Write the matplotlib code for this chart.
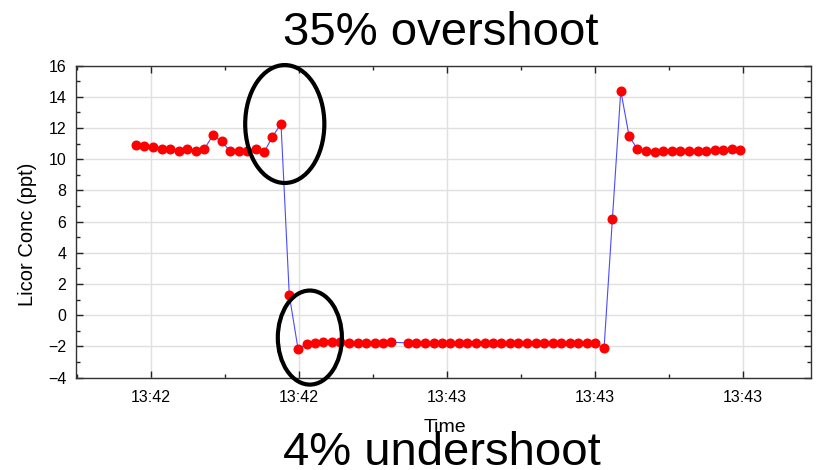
import matplotlib
matplotlib.use('Agg')
import matplotlib.pyplot as plt
from matplotlib.patches import Ellipse
from matplotlib.ticker import MultipleLocator, FuncFormatter

plt.rcParams['font.family'] = ['Liberation Sans', 'DejaVu Sans']

# seconds after 13:42:00
t_sec = [17.97, 19.09, 20.27, 21.45, 22.61, 23.75, 24.87, 26.05, 27.17, 28.35,
         29.52, 30.65, 31.82, 32.95, 34.12, 35.30, 36.38, 37.56,
         38.68, 39.86, 41.02, 42.10, 43.24, 44.41, 45.58, 46.76, 47.93, 49.10,
         50.23, 51.36, 52.49,
         54.75, 55.87, 57.05, 58.21, 59.35, 60.47, 61.60, 62.73, 63.95, 65.08,
         66.20, 67.34, 68.50, 69.64, 70.80, 71.98, 73.16, 74.32, 75.46, 76.58,
         77.76, 78.88, 80.01, 81.23,
         82.36, 83.49, 84.61, 85.75, 86.91, 88.05, 89.17, 90.35, 91.51, 92.69,
         93.87, 94.99, 96.17, 97.33, 98.47, 99.63]
conc = [10.89, 10.81, 10.77, 10.66, 10.66, 10.55, 10.62, 10.53, 10.62, 11.53,
        11.13, 10.53, 10.53, 10.53, 10.62, 10.47, 11.40, 12.28,
        1.28, -2.16, -1.88, -1.78, -1.74, -1.71, -1.74, -1.76, -1.76, -1.76,
        -1.76, -1.76, -1.74,
        -1.78, -1.78, -1.78, -1.79, -1.78, -1.78, -1.79, -1.78, -1.80, -1.79,
        -1.79, -1.80, -1.80, -1.79, -1.79, -1.78, -1.79, -1.80, -1.79, -1.79,
        -1.80, -1.79, -1.79, -2.13,
        6.19, 14.38, 11.49, 10.62, 10.49, 10.47, 10.49, 10.55, 10.55, 10.55,
        10.55, 10.55, 10.60, 10.60, 10.63, 10.60]

tick_sec = [20, 40, 60, 80, 100]


def hhmm(s, pos=None):
    m = 42 + int(s // 60)
    return '13:%02d' % m


fig = plt.figure(figsize=(8.19, 4.70), dpi=100)
ax = fig.add_axes([0.0928, 0.1968, 0.8974, 0.6638])

ax.plot(t_sec, conc, color='#4a4aff', lw=0.8, zorder=2)
ax.plot(t_sec, conc, 'o', color='#ff0000', ms=6.2, mec='#ff0000', zorder=3)

ax.set_xlim(9.85, 109.2)
ax.set_ylim(-4, 16)
ax.set_xticks(tick_sec)
ax.xaxis.set_minor_locator(MultipleLocator(10))
ax.xaxis.set_major_formatter(FuncFormatter(hhmm))
ax.yaxis.set_major_locator(MultipleLocator(2))
ax.yaxis.set_minor_locator(MultipleLocator(1))

ax.grid(True, which='major', color='#e0e0e0', lw=1.0, zorder=0)
ax.set_axisbelow(True)
ax.tick_params(which='both', direction='in', top=True, right=True,
               labelsize=11.5, color='#222222')
ax.tick_params(which='major', length=5, width=1)
ax.tick_params(which='minor', length=3, width=1)
ax.tick_params(axis='x', pad=9)
ax.tick_params(axis='y', pad=7)
for sp in ax.spines.values():
    sp.set_color('#333333')
    sp.set_linewidth(1.0)

ax.set_ylabel('Licor Conc (ppt)', fontsize=14.5)
ax.yaxis.set_label_coords(-0.053, 0.46)

# highlight circles
ax.add_patch(Ellipse((38.07, 12.25), 10.7, 7.56, fill=False, ec='black',
                     lw=3, clip_on=False, zorder=5))
ax.add_patch(Ellipse((41.46, -1.44), 8.66, 6.03, fill=False, ec='black',
                     lw=3, clip_on=False, zorder=5))

fig.text(0.538, 0.93, '35% overshoot', fontsize=34, ha='center', va='center')
fig.text(0.540, 0.010, '4% undershoot', fontsize=34, ha='center', va='baseline')
fig.text(0.543, 0.080, 'Time', fontsize=14, ha='center', va='baseline')

fig.savefig('out.png', dpi=100)
